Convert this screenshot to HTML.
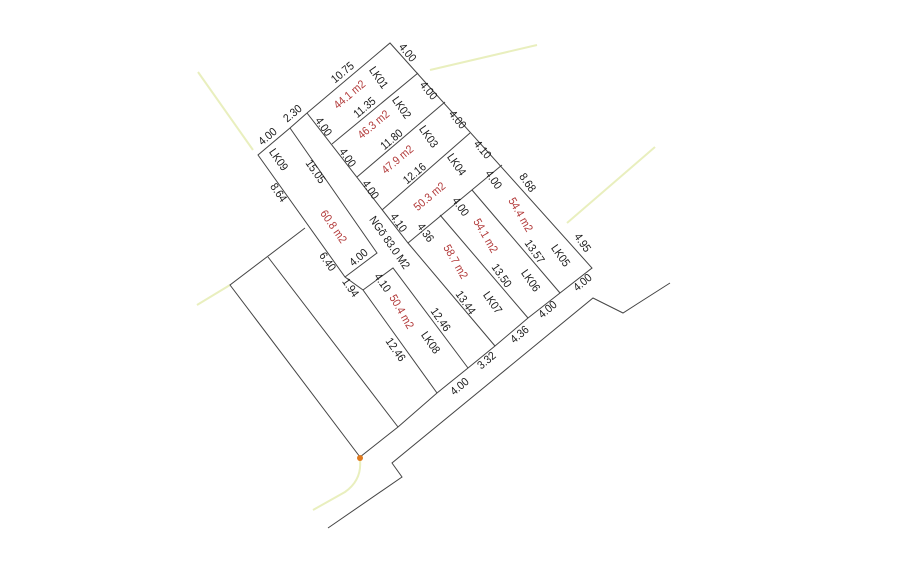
<!DOCTYPE html>
<html><head><meta charset="utf-8"><style>
html,body{margin:0;padding:0;background:#fff;}
svg{display:block;}
text{font-family:"Liberation Sans",sans-serif;font-size:11.5px;fill:#1a1a1a;text-anchor:middle;dominant-baseline:middle;}
.r{fill:#b23a3a;}
</style></head><body>
<svg width="903" height="563" viewBox="0 0 903 563">
<g stroke="#e9efbe" stroke-width="2" fill="none">
<line x1="198" y1="72" x2="253" y2="150"/>
<line x1="430" y1="70" x2="537" y2="45"/>
<line x1="567" y1="223" x2="655" y2="147"/>
<line x1="197" y1="305" x2="230" y2="285"/>
<path d="M360 460 Q362 480 345 492 L313 510"/>
</g>
<g stroke="#444" stroke-width="1" fill="none">
<polyline points="307,113 390,43 592,268 560,293 528,318 495,346 468,368 437,393 398,427 360,457"/>
<line x1="418" y1="73" x2="332" y2="144"/>
<line x1="445" y1="102" x2="357" y2="177"/>
<line x1="470" y1="133" x2="382" y2="210"/>
<line x1="502" y1="165" x2="408" y2="243"/>
<polyline points="307,113 408,243 495,346"/>
<line x1="440" y1="215" x2="528" y2="318"/>
<line x1="472" y1="190" x2="560" y2="293"/>
<polyline points="307,113 290,128 258,155 345,277 363,290 437,393"/>
<polyline points="290,128 377,253 345,277"/>
<polyline points="363,290 393,268 468,368"/>
<polyline points="305,228 230,285 360,457"/>
<line x1="268" y1="257" x2="398" y2="427"/>
<polyline points="670,283 623,313 593,298 392,463 402,477 328,528"/>
</g>
<circle cx="360" cy="458" r="3" fill="#e07a1f"/>
<g>
<text transform="translate(407,53) rotate(50) scale(0.9,1)">4.00</text>
<text transform="translate(343,73) rotate(-40) scale(0.9,1)">10.75</text>
<text transform="translate(378,78) rotate(55) scale(0.9,1)">LK01</text>
<text class="r" transform="translate(350,95) rotate(-40) scale(0.9,1)">44.1 m2</text>
<text transform="translate(365,108) rotate(-40) scale(0.9,1)">11.35</text>
<text transform="translate(428,91) rotate(50) scale(0.9,1)">4.00</text>
<text transform="translate(401,108) rotate(55) scale(0.9,1)">LK02</text>
<text class="r" transform="translate(374,125) rotate(-40) scale(0.9,1)">46.3 m2</text>
<text transform="translate(392,140) rotate(-40) scale(0.9,1)">11.80</text>
<text transform="translate(457,120) rotate(50) scale(0.9,1)">4.00</text>
<text transform="translate(428,137) rotate(55) scale(0.9,1)">LK03</text>
<text class="r" transform="translate(398,160) rotate(-40) scale(0.9,1)">47.9 m2</text>
<text transform="translate(415,174) rotate(-40) scale(0.9,1)">12.16</text>
<text transform="translate(482,150) rotate(50) scale(0.9,1)">4.10</text>
<text transform="translate(456,165) rotate(55) scale(0.9,1)">LK04</text>
<text class="r" transform="translate(430,197) rotate(-40) scale(0.9,1)">50.3 m2</text>
<text transform="translate(323,127) rotate(55) scale(0.9,1)">4.00</text>
<text transform="translate(347,158) rotate(55) scale(0.9,1)">4.00</text>
<text transform="translate(370,190) rotate(55) scale(0.9,1)">4.00</text>
<text transform="translate(398,223) rotate(55) scale(0.9,1)">4.10</text>
<text transform="translate(268,137) rotate(-40) scale(0.9,1)">4.00</text>
<text transform="translate(293,114) rotate(-40) scale(0.9,1)">2.30</text>
<text transform="translate(278,160) rotate(55) scale(0.9,1)">LK09</text>
<text transform="translate(315,172) rotate(55) scale(0.9,1)">15.05</text>
<text transform="translate(278,193) rotate(55) scale(0.9,1)">8.64</text>
<text class="r" transform="translate(333,227) rotate(55) scale(0.9,1)">60.8 m2</text>
<text transform="translate(389,243) rotate(55) scale(0.9,1)">NGõ 83.0 M2</text>
<text transform="translate(327,262) rotate(55) scale(0.9,1)">6.40</text>
<text transform="translate(359,258) rotate(-40) scale(0.9,1)">4.00</text>
<text transform="translate(350,288) rotate(55) scale(0.9,1)">1.94</text>
<text transform="translate(382,283) rotate(55) scale(0.9,1)">4.10</text>
<text class="r" transform="translate(401,312) rotate(60) scale(0.9,1)">50.4 m2</text>
<text transform="translate(395,350) rotate(55) scale(0.9,1)">12.46</text>
<text transform="translate(440,320) rotate(55) scale(0.9,1)">12.46</text>
<text transform="translate(430,343) rotate(55) scale(0.9,1)">LK08</text>
<text transform="translate(425,233) rotate(55) scale(0.9,1)">4.36</text>
<text class="r" transform="translate(455,262) rotate(60) scale(0.9,1)">58.7 m2</text>
<text transform="translate(465,303) rotate(55) scale(0.9,1)">13.44</text>
<text transform="translate(492,303) rotate(55) scale(0.9,1)">LK07</text>
<text transform="translate(460,207) rotate(55) scale(0.9,1)">4.00</text>
<text class="r" transform="translate(485,236) rotate(60) scale(0.9,1)">54.1 m2</text>
<text transform="translate(501,276) rotate(55) scale(0.9,1)">13.50</text>
<text transform="translate(530,281) rotate(55) scale(0.9,1)">LK06</text>
<text transform="translate(493,180) rotate(55) scale(0.9,1)">4.00</text>
<text transform="translate(527,183) rotate(55) scale(0.9,1)">8.68</text>
<text class="r" transform="translate(520,215) rotate(60) scale(0.9,1)">54.4 m2</text>
<text transform="translate(534,252) rotate(55) scale(0.9,1)">13.57</text>
<text transform="translate(560,256) rotate(55) scale(0.9,1)">LK05</text>
<text transform="translate(582,243) rotate(55) scale(0.9,1)">4.95</text>
<text transform="translate(583,283) rotate(-40) scale(0.9,1)">4.00</text>
<text transform="translate(548,310) rotate(-40) scale(0.9,1)">4.00</text>
<text transform="translate(520,335) rotate(-40) scale(0.9,1)">4.36</text>
<text transform="translate(487,361) rotate(-40) scale(0.9,1)">3.32</text>
<text transform="translate(460,387) rotate(-40) scale(0.9,1)">4.00</text>
</g>
</svg>
</body></html>
